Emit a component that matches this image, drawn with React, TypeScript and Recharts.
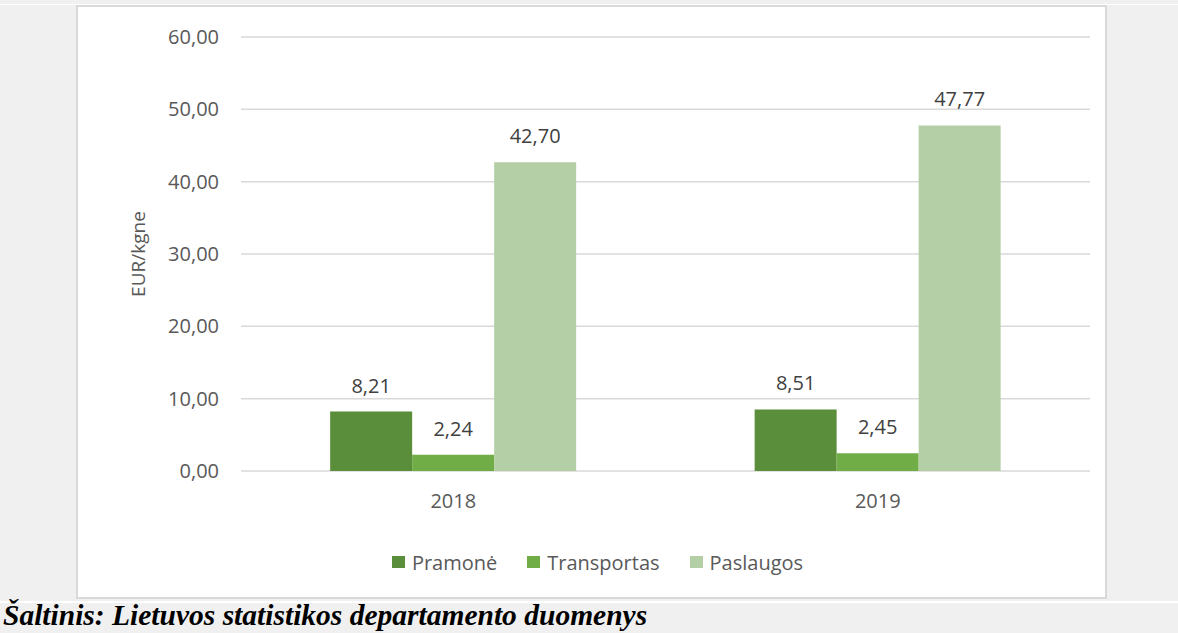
import React from 'react';
import { BarChart, Bar, XAxis, YAxis, CartesianGrid, Legend, LabelList, Label } from 'recharts';

const categories = ['2018', '2019'];
const pramone = [8.21, 8.51];
const transportas = [2.24, 2.45];
const paslaugos = [42.7, 47.77];
const yTicks = [0, 10, 20, 30, 40, 50, 60];
const seriesNames = ['Pramonė', 'Transportas', 'Paslaugos'];
const seriesColors = ['#5b8e3b', '#70ad47', '#b4cfa5'];
const yTitle = 'EUR/kgne';
const sourceText = 'Šaltinis: Lietuvos statistikos departamento duomenys';

const data = categories.map((c, i) => ({
  year: c,
  s0: pramone[i],
  s1: transportas[i],
  s2: paslaugos[i],
}));

const FONT = "'Open Sans', 'Noto Sans', sans-serif";
const fmt = (v: number) => v.toFixed(2).replace('.', ',');

const LegendContent = () => (
  <div style={{ display: 'flex', justifyContent: 'center', alignItems: 'center', fontFamily: FONT, fontSize: 20, color: '#595959', height: 24, paddingLeft: 12 }}>
    {seriesNames.map((n, i) => (
      <div key={n} style={{ display: 'flex', alignItems: 'center', marginRight: i < 2 ? 30 : 0 }}>
        <span style={{ display: 'inline-block', width: 13, height: 12, background: seriesColors[i], marginRight: 7 }} />
        <span>{n}</span>
      </div>
    ))}
  </div>
);

export default function App() {
  return (
    <div style={{ position: 'fixed', left: 0, top: 0, width: 1178, height: 633, background: '#f0f0f0', overflow: 'hidden' }}>
      <div style={{ position: 'absolute', left: 0, top: 4, width: 1178, height: 1, background: '#ffffff' }} />
      <div style={{ position: 'absolute', left: 0, top: 601, width: 1178, height: 2, background: '#ffffff' }} />
      <div style={{ position: 'absolute', left: 76, top: 5, width: 1027, height: 590, background: '#ffffff', border: '2px solid #d9d9d9' }} />
      <div style={{ position: 'absolute', left: 0, top: 0 }}>
        <BarChart
          width={1178}
          height={633}
          data={data}
          margin={{ top: 37, right: 88, left: 0, bottom: 98 }}
          barCategoryGap="21%"
          barGap={0}
        >
          <CartesianGrid vertical={false} stroke="#d9d9d9" strokeWidth={1.5} />
          <XAxis
            dataKey="year"
            axisLine={false}
            tickLine={false}
            tickSize={0}
            tickMargin={23}
            height={40}
            tick={{ fill: '#595959', fontSize: 20, fontFamily: FONT }}
          />
          <YAxis
            width={241}
            domain={[0, 60]}
            ticks={yTicks}
            interval={0}
            axisLine={false}
            tickLine={false}
            tickSize={0}
            tickMargin={22}
            tickFormatter={fmt}
            tick={{ fill: '#595959', fontSize: 20, fontFamily: FONT }}
          >
            <Label
              content={(props: any) => {
                const vb = props.viewBox || { x: 0, y: 37, width: 241, height: 434 };
                const cy = vb.y + vb.height / 2;
                const cx = 145;
                return (
                  <text x={cx} y={cy} transform={`rotate(-90, ${cx}, ${cy})`} textAnchor="middle" fill="#595959" fontSize={19} fontFamily={FONT}>
                    {yTitle}
                  </text>
                );
              }}
            />
          </YAxis>
          <Legend
            verticalAlign="bottom"
            content={<LegendContent />}
            wrapperStyle={{ top: 550, bottom: 'auto', left: 76, width: 1031 }}
          />
          {['s0', 's1', 's2'].map((k, i) => (
            <Bar key={k} dataKey={k} name={seriesNames[i]} fill={seriesColors[i]} isAnimationActive={false}>
              <LabelList dataKey={k} position="top" offset={19} formatter={(v: any) => fmt(Number(v))} fill="#404040" fontSize={20} fontFamily={FONT} />
            </Bar>
          ))}
        </BarChart>
      </div>
      <div style={{ position: 'absolute', left: 3, top: 600, fontFamily: "'Liberation Serif', 'Times New Roman', serif", fontWeight: 'bold', fontStyle: 'italic', fontSize: 29.5, lineHeight: '30px', color: '#000', whiteSpace: 'nowrap' }}>
        {sourceText}
      </div>
    </div>
  );
}
